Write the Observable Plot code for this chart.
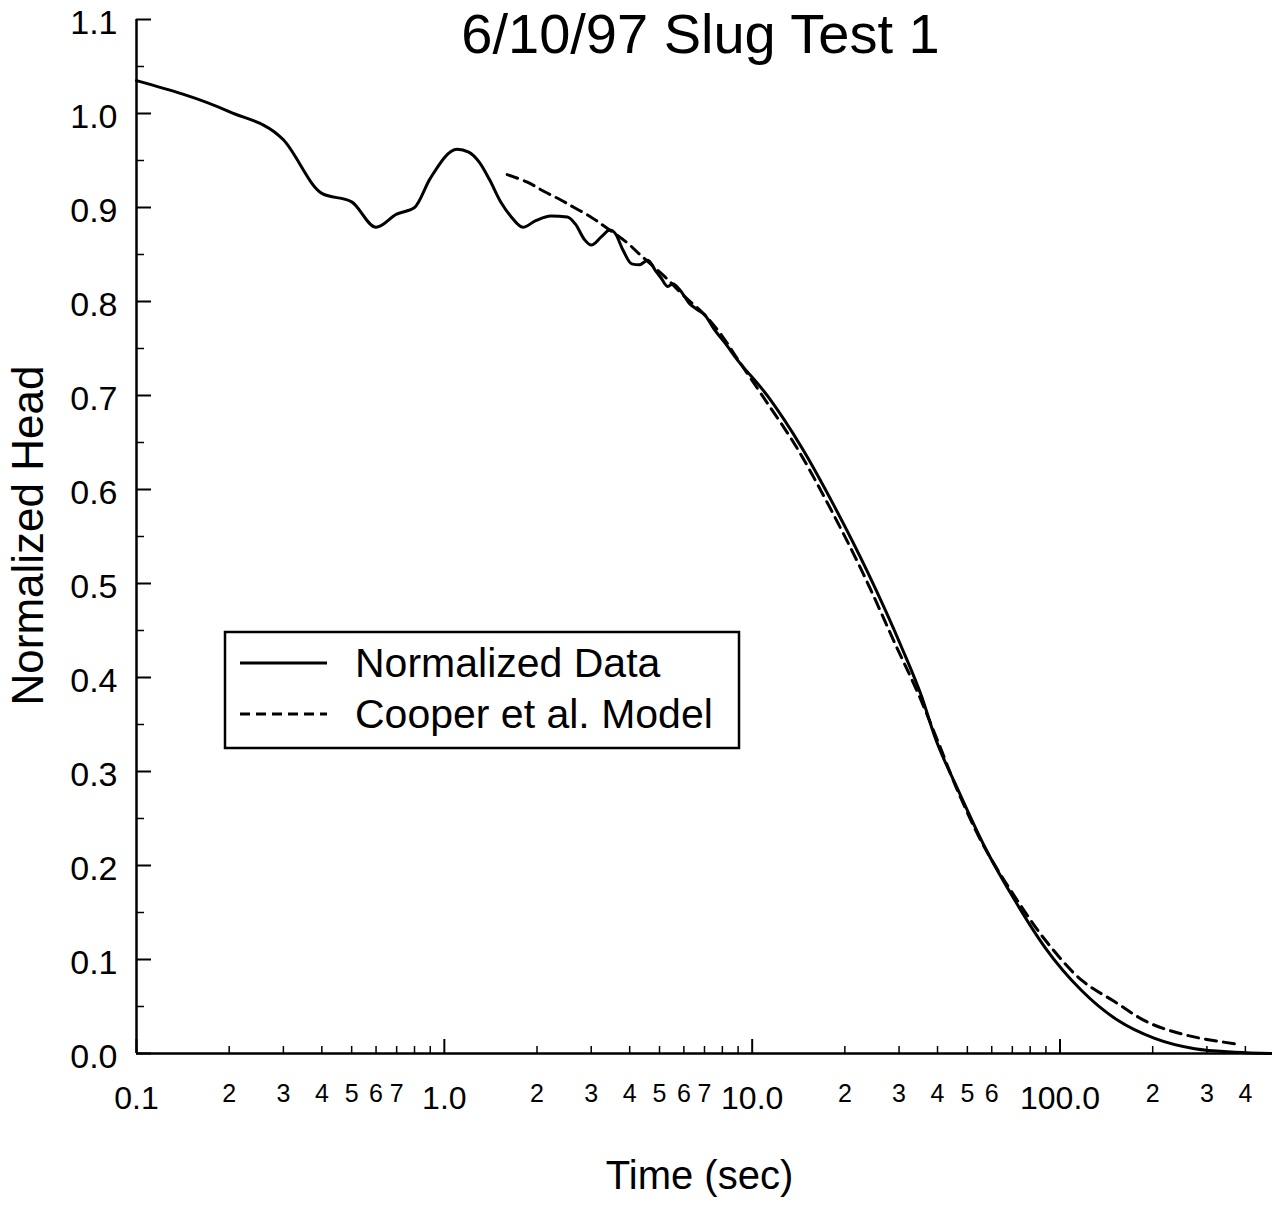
<!DOCTYPE html>
<html>
<head>
<meta charset="utf-8">
<script src="https://cdn.jsdelivr.net/npm/d3@7"></script>
<script src="https://cdn.jsdelivr.net/npm/@observablehq/plot@0.6"></script>
<style>
  html, body { margin: 0; padding: 0; background: white; overflow: hidden; }
  #chart { width: 1272px; height: 1207px; }
</style>
</head>
<body>
<div id="chart"></div>
<script>
// ---- Data ----
const title = "6/10/97 Slug Test 1";
const xLabel = "Time (sec)";
const yLabel = "Normalized Head";
const seriesNames = ["Normalized Data", "Cooper et al. Model"];

// Normalized data (solid line)
const dataTime = [0.1, 0.2, 0.3, 0.4, 0.5, 0.6, 0.7, 0.8, 0.9, 1.1, 1.2, 1.3, 1.4, 1.53, 1.65, 1.8, 1.98, 2.22, 2.51, 2.67, 2.85, 3.0, 3.24, 3.45, 3.58, 3.8, 4.06, 4.3, 4.58, 4.87, 5.06, 5.32, 5.52, 5.8, 6.25, 6.66, 7.0, 7.54, 8.33, 8.76, 11.25, 14.4, 18.5, 23.8, 30.5, 35.5, 39.2, 46.7, 56.9, 71.3, 89.3, 117.5, 154.5, 203, 274, 370, 490];
const dataHead = [1.035, 1.002, 0.972, 0.915, 0.906, 0.879, 0.893, 0.900, 0.931, 0.962, 0.959, 0.948, 0.930, 0.905, 0.890, 0.879, 0.886, 0.891, 0.890, 0.882, 0.866, 0.860, 0.869, 0.876, 0.873, 0.855, 0.840, 0.839, 0.844, 0.832, 0.825, 0.816, 0.819, 0.813, 0.798, 0.791, 0.786, 0.770, 0.752, 0.742, 0.699, 0.646, 0.582, 0.511, 0.433, 0.380, 0.337, 0.280, 0.220, 0.163, 0.113, 0.067, 0.035, 0.016, 0.005, 0.0014, 0.0];

// Cooper et al. model (dashed line)
const modelTime = [1.6, 1.86, 2.11, 2.39, 2.64, 2.99, 3.31, 3.94, 4.35, 5.18, 6.0, 7.0, 8.0, 9.0, 10.83, 13.87, 17.8, 22.9, 29.4, 34.6, 40.0, 46.7, 56.9, 75.0, 91.4, 117.5, 150.7, 193.6, 261, 375];
const modelHead = [0.935, 0.927, 0.917, 0.908, 0.900, 0.890, 0.880, 0.862, 0.849, 0.827, 0.806, 0.786, 0.763, 0.738, 0.699, 0.646, 0.582, 0.511, 0.433, 0.383, 0.333, 0.278, 0.219, 0.156, 0.117, 0.078, 0.055, 0.033, 0.019, 0.010];

// Axis ticks
const yMajorTicks = [0, 0.1, 0.2, 0.3, 0.4, 0.5, 0.6, 0.7, 0.8, 0.9, 1.0, 1.1];
const yMinorTicks = [0.05, 0.15, 0.25, 0.35, 0.45, 0.55, 0.65, 0.75, 0.85, 0.95, 1.05];
const xMajorTicks = [0.1, 1, 10, 100];
const xMajorLabels = ["0.1", "1.0", "10.0", "100.0"];
const xMinorTicks = [0.2,0.3,0.4,0.5,0.6,0.7,0.8,0.9, 2,3,4,5,6,7,8,9, 20,30,40,50,60,70,80,90, 200,300,400];
const xMinorLabelTicks = [0.2,0.3,0.4,0.5,0.6,0.7, 2,3,4,5,6,7, 20,30,40,50,60, 200,300,400];
const xMinorLabels = ["2","3","4","5","6","7", "2","3","4","5","6","7", "2","3","4","5","6", "2","3","4"];

// ---- Build ----
const dataRows = dataTime.map((t, i) => ({t, h: dataHead[i]}));
const modelRows = modelTime.map((t, i) => ({t, h: modelHead[i]}));

const W = 1272, H = 1207;
const mL = 136, mR = 0, mT = 19, mB = 154;
const frameW = W - mL - mR, frameH = H - mT - mB;
const font = "'Liberation Sans', Arial, Helvetica, sans-serif";

const chart = Plot.plot({
  width: W, height: H,
  marginLeft: mL, marginRight: mR, marginTop: mT, marginBottom: mB,
  x: {type: "log", domain: [0.1, 490], axis: null},
  y: {domain: [0, 1.1], axis: null},
  style: {fontFamily: font, background: "white", color: "black"},
  marks: [
    // axis lines
    Plot.ruleY([0], {stroke: "black", strokeWidth: 2.5}),
    Plot.ruleX([0.1], {stroke: "black", strokeWidth: 2.5}),
    // y ticks (inward)
    Plot.tickY(yMajorTicks, {y: d => d, insetRight: frameW - 15, stroke: "black", strokeWidth: 2}),
    Plot.tickY(yMinorTicks, {y: d => d, insetRight: frameW - 8, stroke: "black", strokeWidth: 1.5}),
    // x ticks (inward)
    Plot.tickX(xMajorTicks, {x: d => d, insetTop: frameH - 14, stroke: "black", strokeWidth: 2}),
    Plot.tickX(xMinorTicks, {x: d => d, insetTop: frameH - 7, stroke: "black", strokeWidth: 1.5}),
    // y tick labels
    Plot.text(yMajorTicks, {y: d => d, text: d => d.toFixed(1), frameAnchor: "left", textAnchor: "end", dx: -19, dy: 4, fontSize: 34, fill: "black"}),
    // x tick labels
    Plot.text(xMajorTicks, {x: d => d, text: (d, i) => xMajorLabels[i], frameAnchor: "bottom", lineAnchor: "top", textAnchor: "middle", dy: 33, fontSize: 32, fill: "black"}),
    Plot.text(xMinorLabelTicks, {x: d => d, text: (d, i) => xMinorLabels[i], frameAnchor: "bottom", lineAnchor: "top", textAnchor: "middle", dy: 31, fontSize: 25, fill: "black"}),
    // data lines
    Plot.line(modelRows, {x: "t", y: "h", stroke: "black", strokeWidth: 3, strokeDasharray: "11,7", curve: "catmull-rom"}),
    Plot.line(dataRows, {x: "t", y: "h", stroke: "black", strokeWidth: 3, curve: "monotone-x"}),
    // titles
    Plot.text([title], {frameAnchor: "top", lineAnchor: "bottom", textAnchor: "middle", dx: -4, dy: 33, fontSize: 56, fill: "black"}),
    Plot.text([xLabel], {frameAnchor: "bottom", lineAnchor: "bottom", textAnchor: "middle", dx: -5, dy: 135, fontSize: 40, fill: "black"}),
    Plot.text([yLabel], {frameAnchor: "left", lineAnchor: "bottom", textAnchor: "middle", rotate: -90, dx: -94, dy: -1, fontSize: 44, fill: "black"})
  ]
});

// ---- Legend (drawn inside the same svg) ----
const svg = d3.select(chart);
const lg = svg.append("g").attr("class", "legend");
lg.append("rect").attr("x", 225).attr("y", 632).attr("width", 514).attr("height", 116)
  .attr("fill", "white").attr("stroke", "black").attr("stroke-width", 2.5);
const rowsY = [663, 714];
lg.append("line").attr("x1", 240).attr("x2", 327).attr("y1", rowsY[0]).attr("y2", rowsY[0])
  .attr("stroke", "black").attr("stroke-width", 3);
lg.append("line").attr("x1", 240).attr("x2", 327).attr("y1", rowsY[1]).attr("y2", rowsY[1])
  .attr("stroke", "black").attr("stroke-width", 3).attr("stroke-dasharray", "10,6");
seriesNames.forEach((name, i) => {
  lg.append("text").attr("x", 355).attr("y", rowsY[i]).attr("dy", "0.35em")
    .attr("text-anchor", "start")
    .attr("font-family", font).attr("font-size", 41).attr("fill", "black").text(name);
});

document.getElementById("chart").appendChild(chart);
</script>
</body>
</html>
